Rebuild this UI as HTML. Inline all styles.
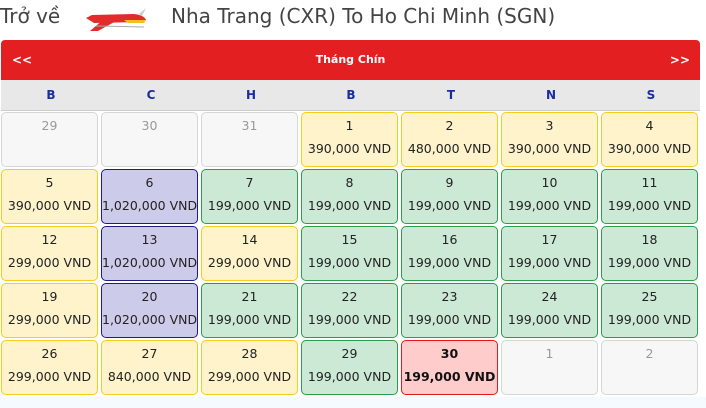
<!DOCTYPE html>
<html><head><meta charset="utf-8"><style>
body{margin:0;width:706px;height:408px;background:#fff;position:relative;overflow:hidden;font-family:"DejaVu Sans","Liberation Sans",sans-serif;}
.t{position:absolute;top:4px;font-size:20px;color:#444;white-space:nowrap}
.hdr{position:absolute;left:1px;top:40px;width:699px;height:40px;background:#e31f22;border-radius:4px 4px 0 0;color:#fff;font-weight:bold;font-size:12px}
.dr{position:absolute;left:1px;top:80px;width:699px;height:30px;background:#e8e8e8;border-bottom:1px solid #ccc}
.dr span{position:absolute;top:8px;width:100px;text-align:center;color:#1a2ea0;font-weight:bold;font-size:12px}
.c{position:absolute;width:95px;height:53px;border:1px solid;border-radius:5px;text-align:center;font-size:12.5px;color:#222}
.c .n{position:absolute;left:0;right:0;top:5px}
.c .p{position:absolute;left:0;right:0;top:28px;white-space:nowrap}
.y{background:#fff3cc;border-color:#f6cd1a}
.g{background:#cce9d6;border-color:#2c9d4b}
.v{background:#ccccea;border-color:#1e1e80}
.e{background:#f7f7f7;border-color:#d6d6d6;color:#999}
.r{background:#ffcccc;border-color:#e8161b;font-weight:bold;color:#111}
.bot{position:absolute;left:0;top:397px;width:706px;height:11px;background:#f5fafe}
</style></head><body>
<div class="t" style="left:0">Trở về</div>
<svg style="position:absolute;left:84px;top:6px" width="70" height="28" viewBox="0 0 70 28">
<path d="M2 12 L8 9 L50 8 Q60 9 62 14 L52 16 L10 17 Z" fill="#e42b2b"/>
<path d="M40 14 L62 14 L60 17 L44 17Z" fill="#f6c01a"/>
<path d="M20 13 L6 25 L14 25 L34 14Z" fill="#e42b2b"/>
<path d="M55 8 L62 2 L58 10Z" fill="#ccc"/>
<path d="M12 20 L60 21" stroke="#aaa" stroke-width="1"/>
</svg>
<div class="t" style="left:171px">Nha Trang (CXR) To Ho Chi Minh (SGN)</div>
<div class="hdr"><span style="position:absolute;left:11px;top:13px">&lt;&lt;</span><span style="position:absolute;left:0;width:699px;text-align:center;top:13px;font-size:11px">Tháng Chín</span><span style="position:absolute;right:10px;top:13px">&gt;&gt;</span></div>
<div class="dr"><span style="left:0">B</span><span style="left:100px">C</span><span style="left:200px">H</span><span style="left:300px">B</span><span style="left:400px">T</span><span style="left:500px">N</span><span style="left:600px">S</span></div>
<div class="bot"></div>
<div class="c e" style="left:1px;top:112px"><div class="n">29</div></div>
<div class="c e" style="left:101px;top:112px"><div class="n">30</div></div>
<div class="c e" style="left:201px;top:112px"><div class="n">31</div></div>
<div class="c y" style="left:301px;top:112px"><div class="n">1</div><div class="p">390,000 VND</div></div>
<div class="c y" style="left:401px;top:112px"><div class="n">2</div><div class="p">480,000 VND</div></div>
<div class="c y" style="left:501px;top:112px"><div class="n">3</div><div class="p">390,000 VND</div></div>
<div class="c y" style="left:601px;top:112px"><div class="n">4</div><div class="p">390,000 VND</div></div>
<div class="c y" style="left:1px;top:169px"><div class="n">5</div><div class="p">390,000 VND</div></div>
<div class="c v" style="left:101px;top:169px"><div class="n">6</div><div class="p">1,020,000 VND</div></div>
<div class="c g" style="left:201px;top:169px"><div class="n">7</div><div class="p">199,000 VND</div></div>
<div class="c g" style="left:301px;top:169px"><div class="n">8</div><div class="p">199,000 VND</div></div>
<div class="c g" style="left:401px;top:169px"><div class="n">9</div><div class="p">199,000 VND</div></div>
<div class="c g" style="left:501px;top:169px"><div class="n">10</div><div class="p">199,000 VND</div></div>
<div class="c g" style="left:601px;top:169px"><div class="n">11</div><div class="p">199,000 VND</div></div>
<div class="c y" style="left:1px;top:226px"><div class="n">12</div><div class="p">299,000 VND</div></div>
<div class="c v" style="left:101px;top:226px"><div class="n">13</div><div class="p">1,020,000 VND</div></div>
<div class="c y" style="left:201px;top:226px"><div class="n">14</div><div class="p">299,000 VND</div></div>
<div class="c g" style="left:301px;top:226px"><div class="n">15</div><div class="p">199,000 VND</div></div>
<div class="c g" style="left:401px;top:226px"><div class="n">16</div><div class="p">199,000 VND</div></div>
<div class="c g" style="left:501px;top:226px"><div class="n">17</div><div class="p">199,000 VND</div></div>
<div class="c g" style="left:601px;top:226px"><div class="n">18</div><div class="p">199,000 VND</div></div>
<div class="c y" style="left:1px;top:283px"><div class="n">19</div><div class="p">299,000 VND</div></div>
<div class="c v" style="left:101px;top:283px"><div class="n">20</div><div class="p">1,020,000 VND</div></div>
<div class="c g" style="left:201px;top:283px"><div class="n">21</div><div class="p">199,000 VND</div></div>
<div class="c g" style="left:301px;top:283px"><div class="n">22</div><div class="p">199,000 VND</div></div>
<div class="c g" style="left:401px;top:283px"><div class="n">23</div><div class="p">199,000 VND</div></div>
<div class="c g" style="left:501px;top:283px"><div class="n">24</div><div class="p">199,000 VND</div></div>
<div class="c g" style="left:601px;top:283px"><div class="n">25</div><div class="p">199,000 VND</div></div>
<div class="c y" style="left:1px;top:340px"><div class="n">26</div><div class="p">299,000 VND</div></div>
<div class="c y" style="left:101px;top:340px"><div class="n">27</div><div class="p">840,000 VND</div></div>
<div class="c y" style="left:201px;top:340px"><div class="n">28</div><div class="p">299,000 VND</div></div>
<div class="c g" style="left:301px;top:340px"><div class="n">29</div><div class="p">199,000 VND</div></div>
<div class="c r" style="left:401px;top:340px"><div class="n">30</div><div class="p">199,000 VND</div></div>
<div class="c e" style="left:501px;top:340px"><div class="n">1</div></div>
<div class="c e" style="left:601px;top:340px"><div class="n">2</div></div>
</body></html>
